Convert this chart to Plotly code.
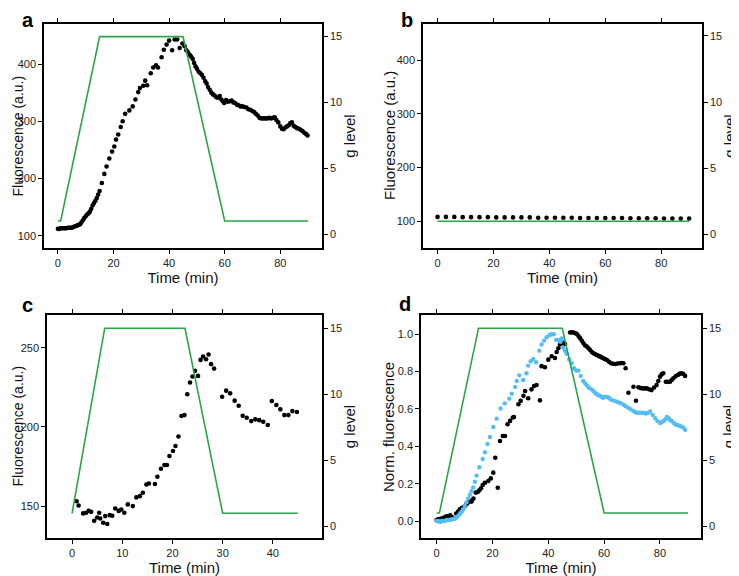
import plotly.graph_objects as go

# panel a: fluorescence during a 15 g cycle
a_time = [0, 0.5, 1, 1.5, 2, 2.5, 3, 3.5, 4, 4.5, 5, 5.5, 6, 6.5, 7, 7.5, 8, 8.5, 9, 9.5,
          10, 10.5, 11, 11.5, 12, 12.5, 13, 13.5, 14, 14.5, 15, 15.8, 16.7, 17.5, 18.5, 19.5,
          20.3, 20.9, 21.7, 22.6, 23.3, 24.2, 25.7, 26.9, 27.9, 28.9, 29.5, 30.7, 31.4, 32.1,
          33.4, 34.3, 35.3, 36.0, 37.3, 38.1, 39.1, 40.0, 41.1, 42.0, 42.9, 43.8, 44.8, 45.6,
          46.2, 46.8, 47.4, 47.9, 48.5, 49.0, 49.5, 50.0, 50.6, 51.2, 51.8, 52.4, 53.0, 53.5,
          54.0, 54.6, 55.2, 55.8, 56.4, 57.0, 57.6, 58.2, 58.8, 59.3, 59.8, 60.5, 61.1, 61.8,
          62.5, 63.1, 63.7, 64.4, 65.0, 65.7, 66.4, 67.1, 67.8, 68.5, 69.2, 69.9, 70.6, 71.2,
          71.9, 72.5, 73.2, 73.9, 74.6, 75.3, 76.0, 76.7, 77.4, 78.0, 78.6, 79.3, 80.0, 80.6,
          81.2, 81.8, 82.4, 83.0, 83.6, 84.2, 84.8, 85.4, 86.0, 86.7, 87.3, 88.0, 88.6, 89.2, 89.8]
a_fluor = [112, 112, 113, 113, 113, 113, 113, 114, 114, 114, 114, 115, 116, 117, 118, 119, 120, 124, 127, 131,
           134, 137, 139, 142, 147, 153, 157, 161, 166, 172, 178, 192, 208, 221, 235, 247,
           256, 268, 277, 290, 300, 313, 319, 326, 338, 351, 358, 362, 371, 363,
           384, 394, 398, 394, 412, 425, 434, 441, 424, 443, 443, 428, 436, 431,
           424, 420, 416, 413, 409, 402, 396, 392, 387, 384, 381, 376, 370, 366,
           360, 355, 350, 347, 345, 342, 341, 344, 338, 335, 332, 337, 334, 335,
           336, 333, 332, 329, 328, 326, 326, 325, 324, 321, 320, 318, 316, 313,
           310, 306, 305, 305, 305, 305, 306, 305, 306, 307, 302, 298, 291, 287,
           286, 289, 291, 293, 297, 298, 292, 290, 288, 287, 285, 283, 280, 278, 275]

# panel b: control at 1 g
b_time = [0, 3, 6, 9, 12, 15, 18, 21, 24, 27, 30, 33, 36, 39, 42, 45, 48, 51, 54, 57,
          60, 63, 66, 69, 72, 75, 78, 81, 84, 87, 90]
b_fluor = [108, 108, 108, 107.5, 107.5, 107.5, 107.5, 107, 107, 107, 107, 107, 106.5, 106.5,
           106.5, 106.5, 106.5, 106, 106, 106, 106, 106, 106, 105.5, 105.5, 105.5, 105.5,
           105, 105, 105, 105]

# panel c: shorter cycle
c_time = [0.9, 1.3, 2.2, 2.8, 3.3, 3.8, 4.4, 5.0, 5.4, 5.6, 6.2, 6.6, 7.0, 7.5, 8.0, 8.6, 9.3,
          9.8, 10.4, 11.1, 12.1, 12.8, 13.5, 14.1, 14.8, 15.3, 16.5, 17.0, 17.7, 18.4, 18.9,
          19.4, 20.1, 20.6, 21.2, 21.8, 22.4, 22.95, 23.5, 24.0, 24.5, 25.1, 25.6, 26.1, 26.7,
          27.2, 27.7, 28.3, 29.9, 30.7, 31.5, 32.4, 33.2, 34.0, 34.8, 35.7, 36.5, 37.3, 38.1,
          39.0, 39.8, 40.7, 41.5, 42.3, 43.1, 43.9, 44.8]
c_fluor = [153.2, 150.5, 145.5, 145.9, 147.1, 146.5, 140.8, 142.9, 145.9, 142.3, 139.6, 143.8,
           138.8, 144.4, 144.0, 148.6, 147.1, 148.0, 145.9, 151.2, 150.1, 155.6, 156.4, 158.5,
           163.7, 164.4, 164.0, 168.6, 173.7, 176.0, 176.0, 181.7, 184.9, 188.0, 194.0, 206.9,
           207.5, 220.6, 228.0, 231.8, 235.4, 232.2, 242.3, 244.4, 242.7, 245.7, 239.6, 236.8,
           219.1, 222.9, 221.2, 216.6, 213.4, 207.1, 205.8, 203.7, 204.8, 204.3, 203.3, 201.2,
           216.4, 213.9, 211.1, 207.5, 207.5, 210.0, 209.4]

# panel d: normalised fluorescence, two strains
d_time_black = [0, 0.7, 1.4, 2.1, 2.8, 3.5, 4.2, 4.9, 5.6, 6.3, 7.0, 7.7, 8.3, 9.0, 9.5, 10.1,
                10.7, 11.4, 12.0, 12.5, 13.2, 14.0, 14.7, 15.3, 15.9, 16.5, 17.3, 18.5, 19.4,
                20.3, 21.0, 21.9, 22.7, 23.7, 24.5, 25.4, 26.3, 27.3, 27.7, 29.3, 30.1, 31.1,
                31.7, 32.8, 34.0, 34.9, 35.8, 37.0, 37.6, 38.8, 40.0, 41.2, 42.4, 43.0, 43.6,
                44.2, 44.8, 45.4, 46.0, 47.8, 48.4, 49.0, 49.6, 50.2, 50.8, 51.4, 52.0, 52.6,
                53.2, 53.8, 54.4, 55.0, 55.6, 56.2, 56.8, 57.4, 58.0, 58.6, 59.2, 59.8, 60.4,
                61.0, 61.8, 62.5, 63.2, 64.0, 64.8, 65.7, 66.3, 66.9, 67.7, 68.7, 70.5, 71.4,
                72.3, 73.0, 73.7, 74.5, 75.3, 76.1, 77.0, 77.9, 78.8, 79.4, 80.0, 80.6, 81.2,
                82.1, 82.8, 83.6, 84.2, 84.8, 85.6, 86.4, 87.0, 87.6, 88.3, 89.0]
d_norm_black = [0.005, 0.01, 0.012, 0.015, 0.02, 0.025, 0.025, 0.03, 0.02, 0.015, 0.04, 0.05,
                0.063, 0.07, 0.072, 0.08, 0.09, 0.1, 0.11, 0.104, 0.12, 0.152, 0.155, 0.164,
                0.175, 0.193, 0.205, 0.214, 0.228, 0.259, 0.339, 0.178, 0.428, 0.455, 0.455,
                0.518, 0.536, 0.554, 0.557, 0.625, 0.643, 0.67, 0.696, 0.657, 0.705, 0.723,
                0.728, 0.646, 0.829, 0.823, 0.864, 0.882, 0.873, 0.905, 0.925, 0.945, 0.952,
                0.954, 0.948, 1.009, 1.01, 1.009, 1.005, 1.002, 0.99, 0.979, 0.965, 0.952,
                0.94, 0.934, 0.925, 0.916, 0.905, 0.898, 0.893, 0.889, 0.884, 0.88, 0.875,
                0.871, 0.866, 0.862, 0.852, 0.845, 0.842, 0.841, 0.843, 0.845, 0.846, 0.845,
                0.818, 0.687, 0.719, 0.644, 0.716, 0.712, 0.71, 0.71, 0.71, 0.705, 0.701,
                0.715, 0.728, 0.75, 0.773, 0.785, 0.791, 0.746, 0.745, 0.746, 0.755, 0.764,
                0.775, 0.782, 0.788, 0.791, 0.788, 0.777]
d_time_blue = [0, 0.6, 1.2, 1.8, 2.4, 3.0, 3.6, 4.2, 4.8, 5.4, 6.0, 6.6, 7.2, 7.8, 8.4, 9.0,
               9.5, 10.1, 10.7, 11.3, 11.9, 12.5, 13.1, 13.7, 14.3, 15.3, 16.5, 17.3, 18.2,
               19.1, 20.3, 21.5, 22.9, 24.4, 26.0, 26.9, 28.1, 28.7, 29.6, 31.0, 32.2, 32.8,
               33.7, 34.6, 35.6, 36.8, 37.6, 38.5, 39.4, 40.4, 41.2, 42.0, 42.8, 43.6, 44.4,
               44.8, 45.4, 46.0, 46.6, 47.5, 48.4, 49.2, 50.0, 50.8, 51.6, 52.5, 53.2, 53.9,
               54.6, 55.5, 56.1, 56.7, 57.3, 57.9, 58.5, 59.1, 59.7, 60.4, 61.1, 61.7, 62.3,
               63.1, 63.9, 64.6, 65.4, 66.2, 67.1, 67.8, 68.6, 69.5, 70.5, 71.1, 71.7, 72.6,
               73.5, 74.3, 75.0, 75.8, 76.5, 77.4, 78.3, 79.1, 80.1, 80.7, 81.3, 81.9, 82.5,
               83.1, 83.7, 84.3, 84.9, 85.5, 86.1, 86.7, 87.2, 87.8, 88.4, 89.0]
d_norm_blue = [0.0, 0.0, -0.005, 0.0, 0.0, 0.0, 0.005, 0.005, 0.005, 0.01, 0.01, 0.015, 0.02,
               0.03, 0.04, 0.05, 0.063, 0.08, 0.1, 0.12, 0.14, 0.16, 0.18, 0.21, 0.243, 0.288,
               0.332, 0.368, 0.412, 0.45, 0.503, 0.548, 0.602, 0.63, 0.655, 0.682, 0.718, 0.75,
               0.78, 0.755, 0.791, 0.832, 0.855, 0.868, 0.85, 0.912, 0.945, 0.966, 0.984, 0.996,
               1.0, 1.0, 0.97, 0.968, 0.96, 0.978, 0.928, 0.91, 0.895, 0.865, 0.845, 0.818,
               0.806, 0.805, 0.777, 0.75, 0.737, 0.725, 0.712, 0.705, 0.696, 0.687, 0.68, 0.675,
               0.669, 0.665, 0.66, 0.666, 0.664, 0.66, 0.651, 0.646, 0.643, 0.638, 0.634, 0.63,
               0.621, 0.614, 0.607, 0.598, 0.589, 0.584, 0.58, 0.58, 0.58, 0.578, 0.575, 0.58,
               0.586, 0.568, 0.55, 0.535, 0.525, 0.53, 0.536, 0.545, 0.557, 0.55, 0.54, 0.535,
               0.525, 0.518, 0.514, 0.512, 0.509, 0.505, 0.5, 0.488]

# g-level profiles
g_time_long = [0, 1, 15, 45, 60, 90]
g_level_long = [1, 1, 15, 15, 1, 1]
g_time_ctrl = [0, 90]
g_level_ctrl = [1, 1]
g_time_short = [0, 6.5, 22.5, 30, 45]
g_level_short = [1, 15, 15, 1, 1]

GREEN = "#2AA548"
BLUE = "#55BDF5"
FONT = "Liberation Sans, Arial, sans-serif"

# page body has an 8px margin, so the figure is laid out in shifted pixels
W, H, OFF = 731, 568, 8


def fx(px):
    return (px - OFF) / W


def fy(py):
    return 1 - (py - OFF) / H


fig = go.Figure()

green = dict(color=GREEN, width=1.6)
dots = dict(color="black", size=4.6)

fig.add_trace(go.Scatter(x=a_time, y=a_fluor, mode="markers", marker=dots, xaxis="x", yaxis="y"))
fig.add_trace(go.Scatter(x=g_time_long, y=g_level_long, mode="lines", line=green, xaxis="x", yaxis="y5"))

fig.add_trace(go.Scatter(x=b_time, y=b_fluor, mode="markers", marker=dots, xaxis="x2", yaxis="y2"))
fig.add_trace(go.Scatter(x=g_time_ctrl, y=g_level_ctrl, mode="lines", line=green, xaxis="x2", yaxis="y6"))

fig.add_trace(go.Scatter(x=c_time, y=c_fluor, mode="markers", marker=dots, xaxis="x3", yaxis="y3"))
fig.add_trace(go.Scatter(x=g_time_short, y=g_level_short, mode="lines", line=green, xaxis="x3", yaxis="y7"))

fig.add_trace(go.Scatter(x=d_time_black, y=d_norm_black, mode="markers", marker=dots, xaxis="x4", yaxis="y4"))
fig.add_trace(go.Scatter(x=d_time_blue, y=d_norm_blue, mode="markers",
                         marker=dict(color=BLUE, size=4.4), xaxis="x4", yaxis="y4"))
fig.add_trace(go.Scatter(x=g_time_long, y=g_level_long, mode="lines", line=green, xaxis="x4", yaxis="y8"))

axis_style = dict(showline=True, linecolor="black", linewidth=1.5, ticks="outside", ticklen=4,
                  tickwidth=1.2, tickcolor="black", showgrid=False, zeroline=False, automargin=False,
                  tickfont=dict(size=11, color="#222"))


def xax(domain, anchor, rng, tickvals):
    return dict(axis_style, domain=domain, anchor=anchor, range=rng, tickvals=tickvals, mirror="ticks",
                title=dict(text="Time (min)", font=dict(size=15, color="#111"), standoff=3))


def yleft(domain, anchor, rng, tickvals, fmt=None):
    d = dict(axis_style, domain=domain, anchor=anchor, range=rng, tickvals=tickvals)
    if fmt:
        d["tickformat"] = fmt
    return d


def yright(over, anchor, rng):
    return dict(axis_style, overlaying=over, anchor=anchor, side="right", range=rng,
                tickvals=[0, 5, 10, 15],
                title=dict(text="g level", font=dict(size=15, color="#111"), standoff=3))


top = [fy(248), fy(24)]
bottom = [fy(538), fy(315)]

fig.update_layout(
    width=W, height=H,
    margin=dict(l=0, r=0, t=0, b=0),
    paper_bgcolor="white", plot_bgcolor="white",
    font=dict(family=FONT, color="#111"),
    showlegend=False,
    xaxis=xax([fx(44), fx(322)], "y", [-5, 95], [0, 20, 40, 60, 80]),
    xaxis2=xax([fx(423), fx(702)], "y2", [-5.2, 94.6], [0, 20, 40, 60, 80]),
    xaxis3=xax([fx(47), fx(322)], "y3", [-5, 49.8], [0, 10, 20, 30, 40]),
    xaxis4=xax([fx(421), fx(701)], "y4", [-5.6, 94.7], [0, 20, 40, 60, 80]),
    yaxis=yleft(top, "x", [78.5, 470], [100, 200, 300, 400]),
    yaxis2=yleft(top, "x2", [50, 467.5], [100, 200, 300, 400]),
    yaxis3=yleft(bottom, "x3", [130, 270.6], [150, 200, 250]),
    yaxis4=yleft(bottom, "x4", [-0.091, 1.103], [0, 0.2, 0.4, 0.6, 0.8, 1.0], ".1f"),
    yaxis5=yright("y", "x", [-1.05, 15.96]),
    yaxis6=yright("y2", "x2", [-1.02, 15.9]),
    yaxis7=yright("y3", "x3", [-0.87, 16.0]),
    yaxis8=yright("y4", "x4", [-0.9, 16.0]),
)

# left y titles placed by hand; the left column sits just inside the figure edge
ytitles = [("Fluorescence (a.u.)", 17.5, 136, 14), ("Fluorescence (a.u.)", 389, 136, 15),
           ("Fluorescence (a.u.)", 17.5, 426, 14), ("Norm. fluorescence", 388, 427, 15)]
for txt, px, py, size in ytitles:
    fig.add_annotation(text=txt, x=fx(px), y=fy(py), xref="paper", yref="paper", textangle=-90,
                       xanchor="center", yanchor="middle", showarrow=False, borderpad=0,
                       font=dict(size=size, color="#111", family=FONT))

# panel letters; the top row hangs from the figure's top edge so nothing is clipped
letters = [("a", 21, 8, "top"), ("b", 400, 8, "top"), ("c", 21, 305, "middle"), ("d", 398, 304, "middle")]
for txt, px, py, anchor in letters:
    fig.add_annotation(text="<b>%s</b>" % txt, x=fx(px), y=fy(py), xref="paper", yref="paper",
                       xanchor="left", yanchor=anchor, showarrow=False, borderpad=0,
                       font=dict(size=20, color="black", family=FONT))

fig.write_html("out.html")
